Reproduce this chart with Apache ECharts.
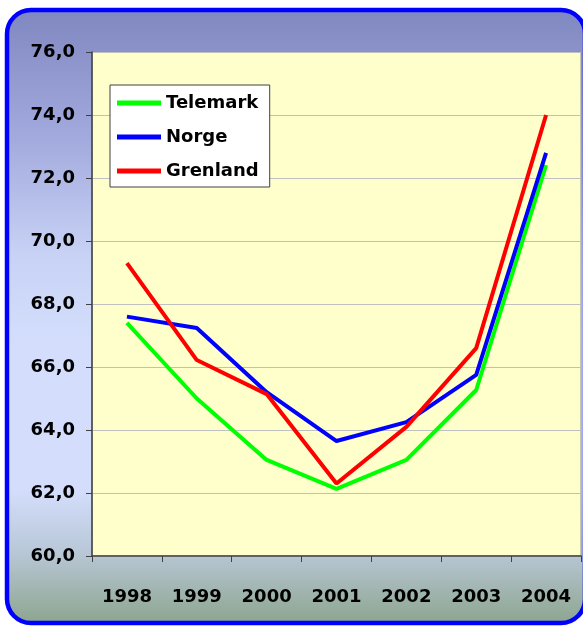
<!DOCTYPE html>
<html>
<head>
<meta charset="utf-8">
<script src="https://cdn.jsdelivr.net/npm/echarts@6/dist/echarts.min.js"></script>
<style>html,body{margin:0;padding:0;background:#fff;}#c{width:583px;height:628px;}</style>
</head>
<body>
<div id="c"></div>
<script>
var years = ['1998','1999','2000','2001','2002','2003','2004'];
var telemark = [67.4, 65.0, 63.05, 62.13, 63.05, 65.27, 72.41];
var norge = [67.6, 67.24, 65.2, 63.65, 64.25, 65.75, 72.8];
var grenland = [69.3, 66.22, 65.14, 62.3, 64.1, 66.6, 74.0];
var yMin = 60, yMax = 76, yStep = 2;

var chart = echarts.init(document.getElementById('c'), null, {renderer: 'canvas'});
var font = '"DejaVu Sans", sans-serif';
chart.setOption({
  animation: false,
  graphic: [{
    type: 'rect', z: -10, silent: true,
    shape: {x: 7, y: 10, width: 578, height: 613, r: 24},
    style: {
      fill: new echarts.graphic.LinearGradient(0, 0, 0, 1, [
        {offset: 0, color: '#8087c0'},
        {offset: 0.2, color: '#a0a8dc'},
        {offset: 0.4, color: '#c8d2f5'},
        {offset: 0.55, color: '#d4defc'},
        {offset: 0.78, color: '#d4defc'},
        {offset: 0.88, color: '#b9c8d8'},
        {offset: 1, color: '#8ca48c'}
      ]),
      stroke: '#0000ff', lineWidth: 4.5
    }
  }],
  grid: {
    left: 92, top: 52, right: 2, bottom: 72,
    show: true, backgroundColor: '#ffffcc', borderColor: '#909090', borderWidth: 1
  },
  legend: {
    orient: 'vertical', left: 110, top: 85,
    backgroundColor: '#ffffff', borderColor: '#404040', borderWidth: 1,
    padding: [9, 11, 7, 7],
    itemWidth: 44, itemHeight: 5, itemGap: 16,
    icon: 'rect',
    textStyle: {fontFamily: font, fontWeight: 'bold', fontSize: 18, color: '#000'},
    data: ['Telemark', 'Norge', 'Grenland']
  },
  xAxis: {
    type: 'category', data: years, boundaryGap: true,
    axisLine: {lineStyle: {color: '#404040', width: 1.5}},
    axisTick: {show: true, length: 6, lineStyle: {color: '#404040'}},
    axisLabel: {fontFamily: font, fontWeight: 'bold', fontSize: 18, color: '#000', margin: 32}
  },
  yAxis: {
    type: 'value', min: yMin, max: yMax, interval: yStep,
    axisLine: {show: true, lineStyle: {color: '#404040', width: 1.5}},
    axisTick: {show: true, length: 6, lineStyle: {color: '#404040'}},
    splitLine: {lineStyle: {color: '#c0c0c0', width: 1}},
    axisLabel: {fontFamily: font, fontWeight: 'bold', fontSize: 18, color: '#000', margin: 17,
      formatter: function (v) { return v.toFixed(1).replace('.', ','); }}
  },
  series: [
    {name: 'Telemark', type: 'line', data: telemark, showSymbol: false, lineStyle: {color: '#00ff00', width: 4}, itemStyle: {color: '#00ff00'}},
    {name: 'Norge', type: 'line', data: norge, showSymbol: false, lineStyle: {color: '#0000ff', width: 4}, itemStyle: {color: '#0000ff'}},
    {name: 'Grenland', type: 'line', data: grenland, showSymbol: false, lineStyle: {color: '#ff0000', width: 4}, itemStyle: {color: '#ff0000'}}
  ]
});
</script>
</body>
</html>
